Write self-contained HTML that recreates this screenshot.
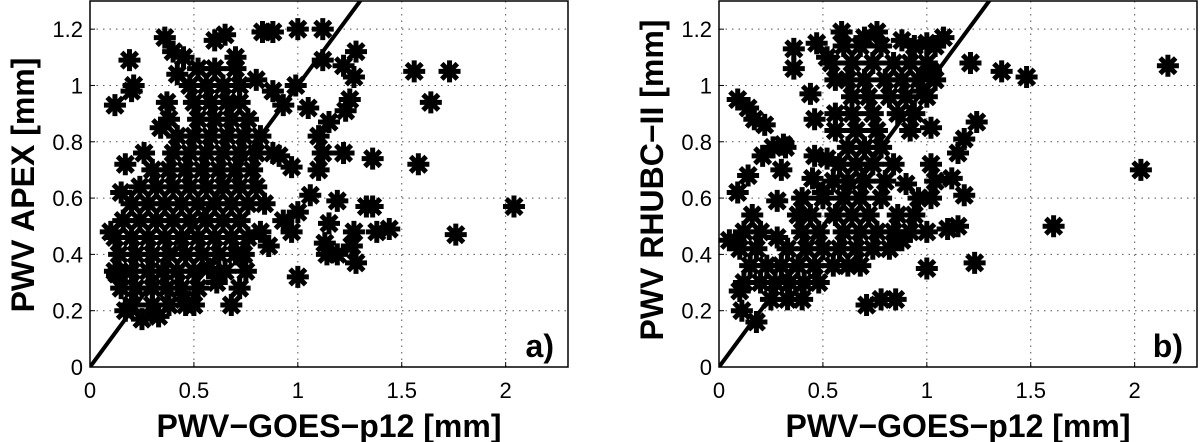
<!DOCTYPE html>
<html><head><meta charset="utf-8"><style>
body{margin:0;background:#fff;}
svg{display:block;font-family:"Liberation Sans",Arial,sans-serif;}
</style></head><body>
<svg id="chart" width="1200" height="442" viewBox="0 0 1200 442" xmlns="http://www.w3.org/2000/svg"></svg>
<script>
const xTicks = [0, 0.5, 1, 1.5, 2];
const xTickLabels = ["0", "0.5", "1", "1.5", "2"];
const yTicks = [0, 0.2, 0.4, 0.6, 0.8, 1, 1.2];
const yTickLabels = ["0", "0.2", "0.4", "0.6", "0.8", "1", "1.2"];
const xMax = 2.3, yMax = 1.3;
const diagLine = [0, 1.4];

const ptsA = [
[0.19,1.09],[0.21,1.0],[0.20,0.98],[0.12,0.93],[0.17,0.72],[0.15,0.62],[0.10,0.48],[0.13,0.33],[0.17,0.20],[0.25,0.17],[0.33,0.18],
[0.36,1.17],[0.40,1.12],[0.45,1.10],[0.42,1.04],[0.37,0.94],[0.34,0.85],[0.60,1.16],[0.65,1.18],[0.70,1.10],[0.83,1.19],[0.88,1.19],
[1.00,1.2],[1.12,1.2],[0.80,1.02],[0.88,0.98],[0.99,1.0],[0.93,0.93],[1.05,0.92],[1.12,1.09],[1.22,1.07],[1.28,1.12],[1.27,1.03],
[1.25,0.95],[1.23,0.91],[1.15,0.87],[1.10,0.82],[1.12,0.76],[1.10,0.70],[1.22,0.76],[1.36,0.74],[1.56,1.05],[1.73,1.05],[1.64,0.94],
[1.58,0.72],[2.04,0.57],[1.76,0.47],[1.06,0.61],[1.19,0.59],[1.33,0.57],[1.36,0.57],[1.38,0.48],[1.44,0.49],[1.27,0.48],[1.26,0.43],
[1.28,0.37],[1.15,0.51],[1.13,0.44],[1.14,0.40],[1.19,0.40],[1.00,0.32],[1.00,0.55],[0.97,0.48],[0.93,0.52],[0.86,0.43],[0.82,0.48],
[0.91,0.75],[0.97,0.71],[0.68,0.22],[0.72,0.28],[0.75,0.34],[0.74,0.40],[0.61,0.30],[0.57,0.35],[0.50,0.22],[0.45,0.24],
[0.2,0.22],[0.3,0.22],[0.38,0.22],[0.46,0.22],
[0.15,0.28],[0.22,0.28],[0.3,0.28],[0.37,0.28],[0.44,0.28],[0.52,0.28],
[0.12,0.34],[0.2,0.34],[0.28,0.34],[0.35,0.34],[0.42,0.34],[0.5,0.34],[0.65,0.34],
[0.14,0.40],[0.22,0.40],[0.3,0.40],[0.38,0.40],[0.46,0.40],[0.54,0.40],[0.62,0.40],[0.7,0.40],
[0.12,0.46],[0.2,0.46],[0.28,0.46],[0.36,0.46],[0.44,0.46],[0.52,0.46],[0.6,0.46],[0.68,0.46],[0.76,0.46],
[0.16,0.52],[0.24,0.52],[0.32,0.52],[0.4,0.52],[0.48,0.52],[0.56,0.52],[0.64,0.52],[0.72,0.52],
[0.2,0.58],[0.28,0.58],[0.36,0.58],[0.44,0.58],[0.52,0.58],[0.6,0.58],[0.68,0.58],[0.76,0.58],[0.84,0.58],
[0.24,0.64],[0.32,0.64],[0.4,0.64],[0.48,0.64],[0.56,0.64],[0.64,0.64],[0.72,0.64],[0.8,0.64],
[0.3,0.70],[0.38,0.70],[0.46,0.70],[0.54,0.70],[0.62,0.70],[0.7,0.70],[0.78,0.70],
[0.26,0.76],[0.4,0.76],[0.48,0.76],[0.56,0.76],[0.64,0.76],[0.72,0.76],[0.8,0.76],[0.88,0.76],
[0.42,0.82],[0.5,0.82],[0.58,0.82],[0.66,0.82],[0.74,0.82],[0.82,0.82],
[0.38,0.88],[0.52,0.88],[0.6,0.88],[0.68,0.88],[0.76,0.88],
[0.5,0.94],[0.58,0.94],[0.66,0.94],[0.72,0.94],
[0.48,1.00],[0.56,1.00],[0.64,1.00],[0.72,1.00],
[0.52,1.06],[0.6,1.06],[0.7,1.06]
];

const ptsB = [
[0.09,0.95],[0.14,0.92],[0.17,0.88],[0.22,0.86],[0.09,0.62],[0.14,0.68],[0.05,0.45],[0.10,0.27],[0.11,0.2],[0.18,0.16],[0.36,1.13],
[0.36,1.06],[0.44,0.97],[0.46,0.88],[0.47,1.15],[0.52,1.1],[0.59,1.19],[0.70,1.17],[0.76,1.19],[0.88,1.16],[1.0,1.15],[1.08,1.17],
[1.21,1.08],[1.36,1.05],[1.48,1.03],[2.16,1.07],[2.03,0.7],[1.61,0.5],[1.24,0.87],[1.18,0.81],[1.15,0.76],[1.18,0.61],[1.12,0.67],
[1.10,0.49],[1.15,0.5],[1.0,0.35],[1.23,0.37],[0.71,0.22],[0.78,0.24],[0.85,0.24],[1.02,0.85],[0.98,0.98],[1.02,1.05],[0.90,0.65],
[1.0,0.48],[0.88,0.45],[0.28,0.59],[0.28,0.46],[0.31,0.79],[0.21,0.75],[0.30,0.7],[0.46,0.75],[0.52,0.74],[0.45,0.67],[0.50,0.62],
[0.25,0.24],[0.33,0.24],[0.4,0.24],
[0.12,0.30],[0.2,0.30],[0.27,0.30],[0.34,0.30],[0.41,0.30],[0.48,0.30],
[0.15,0.36],[0.23,0.36],[0.3,0.36],[0.38,0.36],[0.46,0.36],[0.55,0.36],[0.62,0.36],[0.68,0.36],
[0.1,0.42],[0.18,0.42],[0.33,0.42],[0.42,0.42],[0.5,0.42],[0.58,0.42],[0.66,0.42],[0.74,0.42],[0.82,0.42],
[0.12,0.48],[0.2,0.48],[0.4,0.48],[0.48,0.48],[0.6,0.48],[0.68,0.48],[0.76,0.48],[0.84,0.48],[0.92,0.48],
[0.16,0.54],[0.38,0.54],[0.44,0.54],[0.56,0.54],[0.64,0.54],[0.72,0.54],[0.86,0.54],[0.94,0.54],
[0.4,0.60],[0.5,0.60],[0.6,0.60],[0.68,0.60],[0.78,0.60],[0.96,0.60],[1.02,0.60],
[0.55,0.66],[0.62,0.66],[0.7,0.66],[0.8,0.66],[1.04,0.66],
[0.58,0.72],[0.66,0.72],[0.74,0.72],[0.84,0.72],[1.02,0.72],
[0.26,0.78],[0.32,0.78],[0.62,0.78],[0.7,0.78],[0.78,0.78],
[0.56,0.84],[0.66,0.84],[0.76,0.84],[0.92,0.84],
[0.56,0.90],[0.64,0.90],[0.74,0.90],[0.86,0.90],[0.94,0.90],
[0.64,0.96],[0.72,0.96],[0.82,0.96],[0.9,0.96],[1.0,0.96],
[0.56,1.02],[0.62,1.02],[0.7,1.02],[0.8,1.02],[0.88,1.02],[0.96,1.02],[1.04,1.02],
[0.54,1.08],[0.64,1.08],[0.74,1.08],[0.84,1.08],[0.92,1.08],[1.0,1.08],
[0.6,1.14],[0.68,1.14],[0.78,1.14],[0.94,1.14],[1.04,1.14]
];

const NS = "http://www.w3.org/2000/svg";
const svg = document.getElementById("chart");
function mk(tag, attrs, parent){const e=document.createElementNS(NS,tag);for(const k in attrs)e.setAttribute(k,attrs[k]);parent.appendChild(e);return e;}

function panel(opt){
  const L=opt.left, R=opt.right, T=1, B=367;
  const sx=v=>L+(v/xMax)*(R-L);
  const sy=v=>B-(v/yMax)*(B-T);
  const g=mk("g",{},svg);
  
  
  xTicks.forEach((t,i)=>{
    if(t>0){const l=mk("line",{x1:sx(t),x2:sx(t),y1:T,y2:B,stroke:"#555","stroke-width":1,"stroke-dasharray":"1.5,5"},g);
      }
    const tk=mk("line",{x1:sx(t),x2:sx(t),y1:B,y2:B-5,stroke:"#000","stroke-width":1},g);
    
    const tx=mk("text",{x:sx(t),y:398,"text-anchor":"middle","font-size":22,fill:"#000"},g);
    tx.textContent=xTickLabels[i];
    
  });
  yTicks.forEach((t,i)=>{
    if(t>0){const l=mk("line",{x1:L,x2:R,y1:sy(t),y2:sy(t),stroke:"#555","stroke-width":1,"stroke-dasharray":"1.5,5"},g);
      }
    const tk=mk("line",{x1:L,x2:L+5,y1:sy(t),y2:sy(t),stroke:"#000","stroke-width":1},g);
    
    const tx=mk("text",{x:L-7,y:sy(t)+8,"text-anchor":"end","font-size":22,fill:"#000"},g);
    tx.textContent=yTickLabels[i];
    
  });
  const mg=mk("g",{stroke:"#000","stroke-width":5},g);
  
  
  const r=11, d=r*0.7071;
  opt.pts.forEach(p=>{
    const cx=sx(p[0]), cy=sy(p[1]);
    const pth=mk("path",{d:`M${cx-r},${cy}H${cx+r}M${cx},${cy-r}V${cy+r}M${cx-d},${cy-d}L${cx+d},${cy+d}M${cx-d},${cy+d}L${cx+d},${cy-d}`},mg);
    
    
  });
  const cp=mk("clipPath",{id:opt.name+"-clip"},g);
  mk("rect",{x:L,y:T,width:R-L,height:B-T},cp);
  const dl=mk("line",{x1:sx(diagLine[0]),y1:sy(diagLine[0]),x2:sx(diagLine[1]),y2:sy(diagLine[1]),stroke:"#000","stroke-width":4,"clip-path":`url(#${opt.name}-clip)`},g);
  
  
  const fr=mk("rect",{x:L,y:T,width:R-L,height:B-T,fill:"none",stroke:"#000","stroke-width":1.5},g);
  
  
  const xl=mk("text",{x:(L+R)/2,y:437,"text-anchor":"middle","font-size":32,"font-weight":"bold",fill:"#000"},g);
  xl.textContent="PWV\u2212GOES\u2212p12 [mm]";
  
  const yl=mk("text",{x:0,y:0,"text-anchor":"middle","font-size":32,"font-weight":"bold",fill:"#000",transform:`translate(${opt.ylx},${opt.yly}) rotate(-90)`},g);
  yl.textContent=opt.ylabel;
  
  const pl=mk("text",{x:R-14,y:357,"text-anchor":"end","font-size":32,"font-weight":"bold",fill:"#000"},g);
  pl.textContent=opt.tag;
  
}
panel({name:"panel-a",left:90,right:568,pts:ptsA,ylabel:"PWV APEX [mm]",ylx:34,yly:185,tag:"a)"});
panel({name:"panel-b",left:719,right:1197,pts:ptsB,ylabel:"PWV RHUBC\u2212II [mm]",ylx:663,yly:180,tag:"b)"});
</script>
</body></html>
